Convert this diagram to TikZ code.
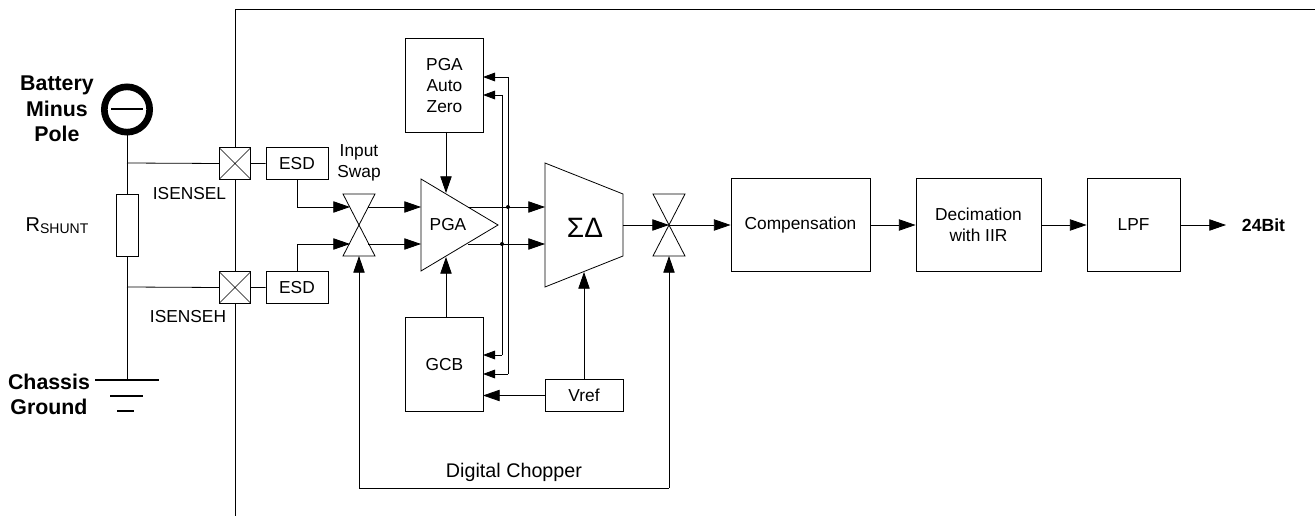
\documentclass[tikz,border=0pt]{standalone}
\usepackage{fontspec}
\setmainfont{Liberation Sans}
\usetikzlibrary{arrows.meta}
\tikzset{
  block/.style={draw,line width=0.6pt,inner sep=0pt,align=center,font=\fontsize{13}{15.8}\selectfont},
  pad/.style={draw,line width=0.6pt,fill=white,inner sep=0pt,minimum width=23.5pt,minimum height=23.5pt,
    path picture={\draw[line width=0.5pt] (path picture bounding box.north west) -- (path picture bounding box.south east)
      (path picture bounding box.south west) -- (path picture bounding box.north east);}},
  lbl/.style={inner sep=0pt,align=center,font=\fontsize{13}{15.8}\selectfont},
  boldlbl/.style={inner sep=0pt,align=center,font=\fontsize{16}{19}\selectfont\bfseries},
  wire/.style={line width=0.6pt},
  heavy/.style={line width=2pt},
  sig/.style={line width=0.6pt,-{Triangle[length=12.5pt,width=8.5pt]}},
  sigsmall/.style={line width=0.6pt,-{Triangle[length=9pt,width=6.5pt]}},
  dot/.style={circle,fill,inner sep=0pt,minimum size=3pt},
}
\begin{document}
\begin{tikzpicture}[x=0.75pt,y=-0.75pt]
  \useasboundingbox (0,0) rectangle (1315,516);
  % chip outline
  \coordinate (frametop) at (1315,9);
  \coordinate (framecorner) at (235,9);
  \coordinate (framebot) at (235,516);
  \draw[wire] (frametop) -- (framecorner) -- (framebot);

  % shunt side
  \node[circle,draw,line width=5pt,minimum size=34pt,inner sep=0pt] (batt) at (127,109.5) {};
  \coordinate (minusl) at (111,109);
  \coordinate (minusr) at (143,109);
  \draw[heavy] (minusl) -- (minusr);
  \node[boldlbl] (battlbl) at (57,109) {Battery\\Minus\\Pole};
  \node[block,minimum width=16.5pt,minimum height=46.5pt] (shunt) at (127,225) {};
  \node[inner sep=0pt,font=\fontsize{15}{18}\selectfont] (shuntlbl) at (57,226) {R\raisebox{-1.5pt}{\fontsize{10.5}{12}\selectfont SHUNT}};
  \coordinate (jl) at (127,163);
  \coordinate (jh) at (127,287);
  \coordinate (gnd) at (127,380);
  \coordinate (gnd1l) at (95,380);
  \coordinate (gnd1r) at (159,380);
  \coordinate (gnd2l) at (110,396);
  \coordinate (gnd2r) at (143,396);
  \coordinate (gnd3l) at (117,411);
  \coordinate (gnd3r) at (134,411);
  \draw[wire] (batt) -- (shunt) -- (gnd);
  \draw[heavy] (gnd1l) -- (gnd1r) (gnd2l) -- (gnd2r) (gnd3l) -- (gnd3r);
  \node[boldlbl] (gndlbl) at (49,394.5) {Chassis\\Ground};

  % pads
  \node[pad] (padl) at (235,163.5) {};
  \node[pad] (padh) at (235,287.5) {};
  \node[lbl] (padllbl) at (189.5,194) {ISENSEL};
  \node[lbl] (padhlbl) at (188,317) {ISENSEH};
  \node[block,minimum width=46.5pt,minimum height=23.5pt] (esdl) at (297,163.5) {ESD};
  \node[block,minimum width=46.5pt,minimum height=23.5pt] (esdh) at (297,287.5) {ESD};
  \draw[wire] (jl) -- (padl.west) (padl.east) -- (esdl);
  \draw[wire] (jh) -- (padh.west) (padh.east) -- (esdh);

  % input swap
  \coordinate (swapc) at (359,225);
  \draw[wire] (swapc) -- (343,194) -- (375,194) -- cycle;
  \draw[wire] (swapc) -- (343,256) -- (375,256) -- cycle;
  \coordinate (swapbot) at (359,256);
  \coordinate (swapinl) at (350,207);
  \coordinate (swapinh) at (350,244);
  \coordinate (swapoutl) at (368,207);
  \coordinate (swapouth) at (368,244);
  \node[lbl] (swaplbl) at (359,163) {Input\\Swap};
  \draw[sig] (esdl.south) |- (swapinl);
  \draw[sig] (esdh.north) |- (swapinh);

  % PGA
  \coordinate (pgaa) at (421,179);
  \coordinate (pgab) at (421,271);
  \coordinate (pgac) at (498,225);
  \draw[wire] (pgaa) -- (pgac) -- (pgab) -- cycle;
  \node[lbl] (pgalbl) at (448,225) {PGA};
  \coordinate (pgainl) at (421,207);
  \coordinate (pgainh) at (421,244);
  \coordinate (pgaoutl) at (468,207);
  \coordinate (pgaouth) at (468,244);
  \coordinate (pgatop) at (446,193);
  \coordinate (pgabot) at (446,257);
  \draw[sig] (swapoutl) -- (pgainl);
  \draw[sig] (swapouth) -- (pgainh);
  \node[block,minimum width=58pt,minimum height=70pt] (az) at (444.5,85.5) {PGA\\Auto\\Zero};
  \node[block,minimum width=58pt,minimum height=70pt] (gcb) at (444.5,364.5) {GCB};
  \coordinate (azs) at (446,132);
  \coordinate (gcbn) at (446,318);
  \draw[sig] (azs) -- (pgatop);
  \draw[sig] (gcbn) -- (pgabot);

  % sigma delta
  \coordinate (sda) at (545,163);
  \coordinate (sdb) at (623,194);
  \coordinate (sdc) at (623,256);
  \coordinate (sdd) at (545,287);
  \draw[wire] (sda) -- (sdb) -- (sdc) -- (sdd) -- cycle;
  \node[inner sep=0pt,font=\fontsize{21}{24}\selectfont] (sdlbl) at (585,228) {ΣΔ};
  \coordinate (sdinl) at (545,207);
  \coordinate (sdinh) at (545,244);
  \coordinate (sdout) at (623,225);
  \coordinate (sdbot) at (584,272);
  \draw[sig] (pgaoutl) -- (sdinl);
  \draw[sig] (pgaouth) -- (sdinh);
  \node[dot] (dotl) at (508,207) {};
  \node[dot] (doth) at (502,244) {};

  % feedback lines to autozero and gain
  \coordinate (azl) at (483,77);
  \coordinate (azh) at (483,95);
  \coordinate (gcbh) at (483,355);
  \coordinate (gcbl) at (483,374);
  \coordinate (cornl) at (508,77);
  \coordinate (cornh) at (502,95);
  \coordinate (cornhb) at (502,355);
  \coordinate (cornlb) at (508,374);
  \draw[sigsmall] (cornl) -- (azl);
  \draw[sigsmall] (cornh) -- (azh);
  \draw[wire] (cornl) -- (cornlb);
  \draw[wire] (cornh) -- (cornhb);
  \draw[sigsmall] (cornhb) -- (gcbh);
  \draw[sigsmall] (cornlb) -- (gcbl);

  % vref
  \node[block,minimum width=58.5pt,minimum height=23.5pt] (vref) at (584,395.5) {Vref};
  \coordinate (gcbref) at (483,395.5);
  \draw[sig] (vref.west) -- (gcbref);
  \draw[sig] (vref.north) -- (sdbot);

  % output chopper
  \coordinate (chopc) at (669,225);
  \draw[wire] (chopc) -- (653,194) -- (685,194) -- cycle;
  \draw[wire] (chopc) -- (653,256) -- (685,256) -- cycle;
  \coordinate (chopbot) at (669,256);
  \draw[sig] (sdout) -- (chopc);
  \coordinate (chopl) at (359,488);
  \coordinate (chopr) at (669,488);
  \draw[sig] (chopl) -- (swapbot);
  \draw[wire] (chopl) -- (chopr);
  \draw[sig] (chopr) -- (chopbot);
  \node[inner sep=0pt,font=\fontsize{14.8}{18}\selectfont] (choplbl) at (514,472) {Digital Chopper};

  % digital path
  \node[block,minimum width=104.25pt,minimum height=69.5pt] (comp) at (800.5,225) {Compensation};
  \node[block,minimum width=93.75pt,minimum height=69.5pt] (deci) at (978.5,225) {Decimation\\with IIR};
  \node[block,minimum width=69.75pt,minimum height=69.5pt] (lpf) at (1133.5,225) {LPF};
  \node[inner sep=0pt,font=\fontsize{13.2}{16}\selectfont\bfseries] (outlbl) at (1263.5,225) {24Bit};
  \coordinate (outend) at (1226,225);
  \draw[sig] (chopc) -- (comp);
  \draw[sig] (comp) -- (deci);
  \draw[sig] (deci) -- (lpf);
  \draw[sig] (lpf) -- (outend);
\end{tikzpicture}
\end{document}
